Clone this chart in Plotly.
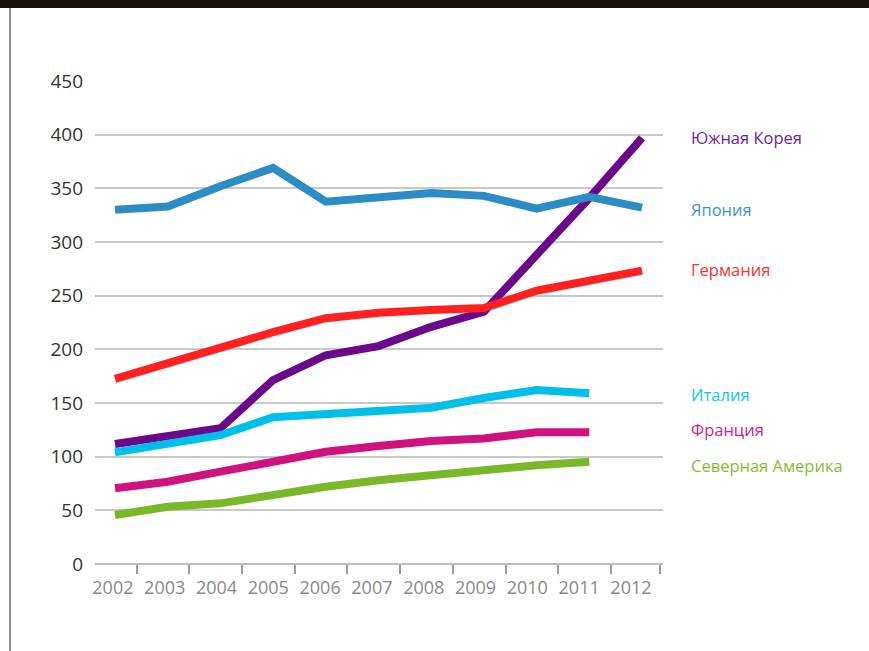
import plotly.graph_objects as go

years = [2002, 2003, 2004, 2005, 2006, 2007, 2008, 2009, 2010, 2011, 2012]
korea = [111.8, 118.5, 126.4, 171.4, 194.5, 203, 221, 235, 288, 341, 397]
japan = [330, 333, 352, 369, 337.6, 342, 345.6, 343, 331, 342, 332]
germany = [172.4, 187.5, 202.5, 216, 229, 234, 236.6, 238.5, 254.6, 264, 273.3]
italy = [104, 112, 120, 136.7, 139.8, 142.5, 145.6, 154.7, 162, 159]
france = [70.5, 76.7, 86, 94.7, 104.6, 110, 114.6, 117, 122.7, 122.7]
namerica = [45.6, 53.4, 56.5, 65, 72, 78, 83, 87.5, 92, 95.3]

names = ["Южная Корея", "Япония", "Германия", "Италия", "Франция", "Северная Америка"]
series = [korea, japan, germany, italy, france, namerica]
colors = ["#6a0a8a", "#2b8cc6", "#ff2020", "#00c0ea", "#d0127e", "#7ab82a"]
label_colors = ["#74209a", "#3a94cc", "#ff3030", "#10c4ec", "#d42088", "#84be38"]
label_y = [397.5, 330, 274, 157.5, 125, 92]

y_ticks = [0, 50, 100, 150, 200, 250, 300, 350, 400, 450]

W, H = 869, 651
x0, x1 = 95, 663
ybot, ytop = 564, 81

fig = go.Figure()
for name, vals, col in zip(names, series, colors):
    fig.add_trace(go.Scatter(
        x=years[:len(vals)], y=vals, mode="lines", name=name,
        line=dict(color=col, width=8, shape="linear"),
        cliponaxis=False, showlegend=False, hoverinfo="skip"))

for name, yv, col in zip(names, label_y, label_colors):
    fig.add_annotation(x=689 / W, y=yv, xref="paper", yref="y", text=name,
                       showarrow=False, xanchor="left", yanchor="middle",
                       font=dict(family="Open Sans", size=16.5, color=col))

label_pos = [2002 + 0.983 * i - 0.04 for i in range(len(years))]
boundaries = [y + 0.41 for y in years[:-1]] + [2012.35]

xr = [2002 - 20 / 52.7, 2012 + (x1 - 115 - 10 * 52.7) / 52.7]

fig.update_layout(
    width=W, height=H,
    margin=dict(l=0, r=0, t=0, b=0, pad=0, autoexpand=False),
    paper_bgcolor="white", plot_bgcolor="white",
    xaxis=dict(domain=[x0 / W, x1 / W], range=xr, tickvals=label_pos,
               ticktext=[str(y) for y in years], ticks="", showgrid=False,
               zeroline=False, showline=False, ticklabelstandoff=11,
               automargin=False,
               tickfont=dict(family="Open Sans", size=18, color="#8a8a8a")),
    xaxis2=dict(domain=[x0 / W, x1 / W], range=xr, overlaying="x",
                anchor="y", side="bottom", tickvals=boundaries,
                showticklabels=False, ticks="outside", ticklen=9,
                tickwidth=2, tickcolor="#9a9a9a", showgrid=False,
                zeroline=False, showline=False, automargin=False),
    yaxis=dict(domain=[(H - ybot) / H, (H - ytop) / H], range=[0, 450],
               tickvals=y_ticks, showgrid=True, gridcolor="#c8c8c8",
               gridwidth=1.5, zeroline=True, zerolinecolor="#bdbdbd",
               zerolinewidth=2, showline=False, ticks="",
               ticklabelstandoff=11, automargin=False,
               tickfont=dict(family="Open Sans", size=19, color="#333333")),
)
fig.add_trace(go.Scatter(x=[years[0]], y=[None], xaxis="x2", yaxis="y",
                         showlegend=False, hoverinfo="skip"))

fig.add_shape(type="rect", xref="paper", yref="paper", x0=0, x1=1,
              y0=1 - 8 / H, y1=1, fillcolor="#15110d", line_width=0)
fig.add_shape(type="line", xref="paper", yref="paper", x0=10 / W, x1=10 / W,
              y0=0, y1=1 - 8 / H, line=dict(color="#8c8c8c", width=2))

fig.write_html("out.html")
